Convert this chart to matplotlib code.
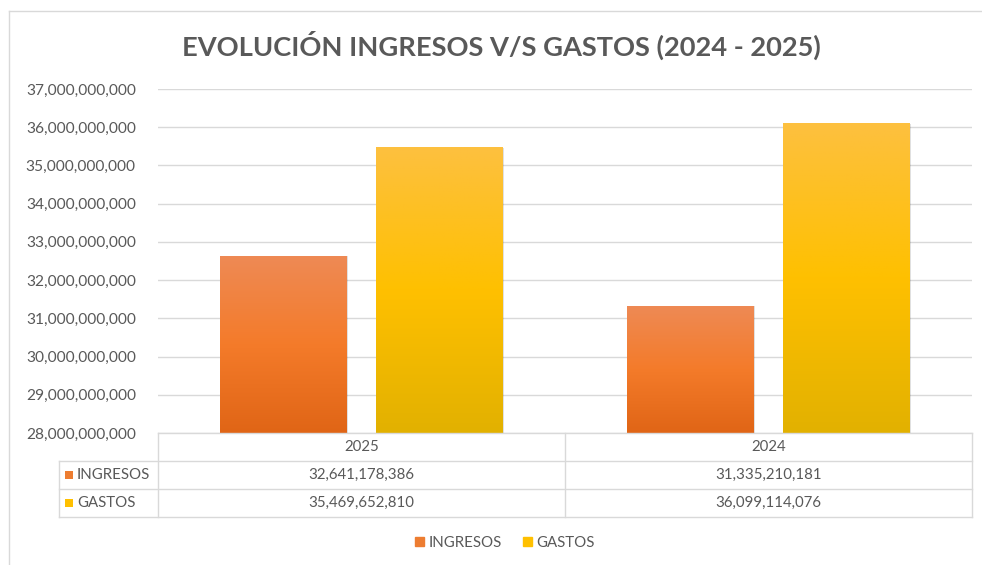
import numpy as np
import matplotlib.pyplot as plt
from matplotlib.lines import Line2D
from matplotlib.patches import Patch, Rectangle
from matplotlib.colors import LinearSegmentedColormap

years = ["2025", "2024"]
series = ["INGRESOS", "GASTOS"]
ingresos = [32641178386, 31335210181]
gastos = [35469652810, 36099114076]

W, H = 982, 565
GRID = "#D9D9D9"
TXT = "#595959"
plt.rcParams["font.family"] = ["Lato", "DejaVu Sans"]

fig = plt.figure(figsize=(W / 100, H / 100), dpi=100)

def fx(px):
    return px / W

def fy(py):
    return 1 - py / H

# chart frame
fig.add_artist(Line2D([fx(9), 1], [fy(11), fy(11)], color=GRID, lw=1))
fig.add_artist(Line2D([fx(9), fx(9)], [fy(11), 0], color=GRID, lw=1))

ax = fig.add_axes([fx(158), fy(433), fx(972) - fx(158), fy(89) - fy(433)])
ax.set_xlim(-0.5, len(years) - 0.5)
ax.set_ylim(28e9, 37e9)
ax.set_yticks(np.arange(28e9, 37.1e9, 1e9))
ax.yaxis.set_major_formatter(plt.FuncFormatter(lambda v, p: f"{v:,.0f}"))
ax.tick_params(axis="y", length=0, pad=16, labelsize=11.2, labelcolor=TXT)
ax.set_xticks([])
for s in ax.spines.values():
    s.set_visible(False)
ax.grid(axis="y", color=GRID, lw=1)
ax.set_axisbelow(True)

grads = {
    "INGRESOS": ["#E06516", "#F47B2A", "#EE8A55"],
    "GASTOS": ["#E2B100", "#FFC000", "#FDC03F"],
}
solid = {"INGRESOS": "#ED7D31", "GASTOS": "#FFC000"}
x = np.arange(len(years))
width = 0.31
offsets = [-0.193, 0.19]
for name, vals, off in zip(series, [ingresos, gastos], offsets):
    cmap = LinearSegmentedColormap.from_list(name, grads[name])
    bars = ax.bar(x + off, vals, width, bottom=0, color=solid[name], zorder=2)
    for b in bars:
        bx, by = b.get_x(), b.get_y()
        bw, bh = b.get_width(), b.get_height()
        # soft shadow
        ax.add_patch(Rectangle((bx + 0.004, 28e9), bw, bh - 28e9 - 0.02e9,
                               color="#000000", alpha=0.12, lw=0, zorder=1.5))
        grad = np.linspace(0, 1, 256).reshape(-1, 1)
        im = ax.imshow(grad, cmap=cmap, origin="lower", aspect="auto",
                       extent=[bx, bx + bw, 28e9, bh], zorder=2.5)
        im.set_clip_path(b)

ax.set_xlim(-0.5, len(years) - 0.5)
ax.set_ylim(28e9, 37e9)

# title
fig.text(fx(501), fy(45), "EVOLUCIÓN INGRESOS V/S GASTOS (2024 - 2025)",
         ha="center", va="center", fontsize=19.6, fontweight="bold", color=TXT)

# data table
def tl(x0, x1, y0, y1):
    fig.add_artist(Line2D([fx(x0), fx(x1)], [fy(y0), fy(y1)], color=GRID, lw=1))

tl(158, 972, 433, 433)
tl(59, 972, 461, 461)
tl(59, 972, 489, 489)
tl(59, 972, 517, 517)
col_x = [158 + i * (972 - 158) / len(years) for i in range(len(years) + 1)]
for cx in col_x:
    tl(cx, cx, 433, 517)
tl(59, 59, 461, 517)

for i, yr in enumerate(years):
    cx = (col_x[i] + col_x[i + 1]) / 2
    fig.text(fx(cx), fy(447), yr, ha="center", va="center", fontsize=10.8, color=TXT)
    fig.text(fx(cx), fy(475), f"{ingresos[i]:,}", ha="center", va="center",
             fontsize=10.8, color=TXT)
    fig.text(fx(cx), fy(503), f"{gastos[i]:,}", ha="center", va="center",
             fontsize=10.8, color=TXT)

for name, ry in zip(series, [475, 503]):
    fig.add_artist(Rectangle((fx(65), fy(ry + 4)), fx(8), 8 / H,
                             color=solid[name], lw=0))
    fig.text(fx(77), fy(ry), name, ha="left", va="center", fontsize=10.8, color=TXT)

# legend
handles = [Patch(color=solid[s], label=s) for s in series]
fig.legend(handles=handles, loc="center", bbox_to_anchor=(fx(505), fy(543)),
           ncol=2, frameon=False, fontsize=10.8, handlelength=0.6,
           handleheight=0.6, handletextpad=0.3, columnspacing=1.4,
           labelcolor=TXT)

fig.savefig("out.png", dpi=100)
